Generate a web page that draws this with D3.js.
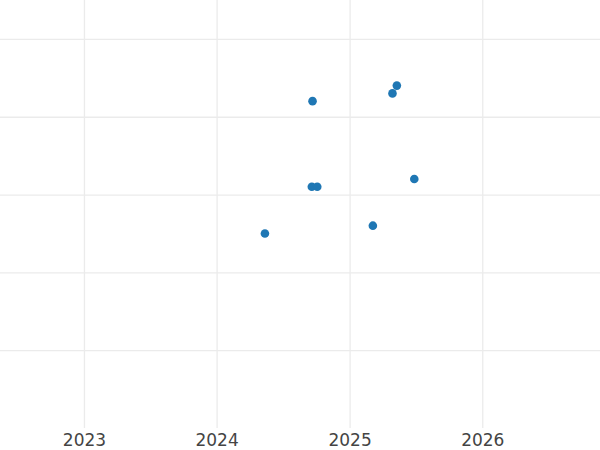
<!DOCTYPE html>
<html>
<head>
<meta charset="utf-8">
<script src="https://cdn.jsdelivr.net/npm/d3@7"></script>
<style>
  html, body { margin: 0; padding: 0; background: #fff; }
  svg { display: block; }
</style>
</head>
<body>
<svg id="chart" width="600" height="450"></svg>
<script>
// Data
const dates = ["2024-09-21", "2025-05-11", "2025-04-29", "2024-09-19", "2024-10-04", "2025-06-28", "2024-05-13", "2025-03-06"];
const values = [4.2, 4.4, 4.3, 3.1, 3.1, 3.2, 2.5, 2.6];
const xTickLabels = ["2023", "2024", "2025", "2026"];
const yTickValues = [1, 2, 3, 4, 5];
const xDomain = ["2022-05-15", "2026-11-21"];
const yDomain = [0, 5.5];

const W = 600, H = 450;
const plot = { left: 0, right: 600, top: 0, bottom: 428 };

const parse = d3.utcParse("%Y-%m-%d");
const x = d3.scaleUtc().domain(xDomain.map(parse)).range([plot.left, plot.right]);
const y = d3.scaleLinear().domain(yDomain).range([plot.bottom, plot.top]);

const svg = d3.select("#chart");
svg.append("rect").attr("width", W).attr("height", H).attr("fill", "#fff");

const gridColor = "#ebebeb";

// Horizontal gridlines
const yAxis = d3.axisLeft(y).tickValues(yTickValues).tickSize(-(plot.right - plot.left)).tickFormat("");
const gy = svg.append("g").attr("transform", `translate(${plot.left},0)`).call(yAxis);
gy.select(".domain").remove();
gy.selectAll(".tick line").attr("stroke", gridColor).attr("stroke-width", 1.3);

// Vertical gridlines + labels
const xTicks = xTickLabels.map(s => parse(s + "-01-01"));
const xAxis = d3.axisBottom(x).tickValues(xTicks).tickSize(-(plot.bottom - plot.top))
  .tickFormat(d3.utcFormat("%Y"));
const gx = svg.append("g").attr("transform", `translate(0,${plot.bottom})`).call(xAxis);
gx.select(".domain").remove();
gx.selectAll(".tick line").attr("stroke", gridColor).attr("stroke-width", 1.3);
gx.selectAll(".tick text")
  .attr("y", 17.5)
  .attr("dy", 0)
  .attr("fill", "#444")
  .attr("font-family", "DejaVu Sans, sans-serif")
  .attr("font-size", "17px");

// Points
svg.append("g").selectAll("circle")
  .data(dates.map((d, i) => ({ date: parse(d), value: values[i] })))
  .join("circle")
  .attr("cx", d => x(d.date))
  .attr("cy", d => y(d.value))
  .attr("r", 4.3)
  .attr("fill", "#1f77b4");
</script>
</body>
</html>
